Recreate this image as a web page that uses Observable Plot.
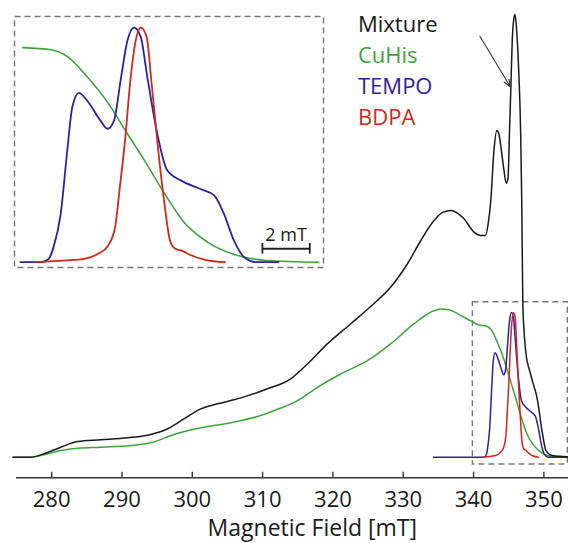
<!DOCTYPE html>
<html><head><meta charset="utf-8">
<script src="https://cdn.jsdelivr.net/npm/d3@7"></script>
<script src="https://cdn.jsdelivr.net/npm/@observablehq/plot@0.6"></script>
<style>
html,body{margin:0;padding:0;background:#fff;}
#wrap{position:relative;width:568px;height:543px;font-family:"Open Sans",sans-serif;overflow:hidden;}
#main,#inset,#legend{position:absolute;}
#main{left:0;top:0;}
#inset{left:13px;top:15px;}
#legend{left:358px;top:8px;font-size:22px;line-height:31px;}
</style></head><body>
<div id="wrap"><div id="main"></div><div id="inset"></div><div id="legend"></div></div>
<script>
// Magnetic field [mT], intensity (arbitrary units, Mixture peak = 100)
const mixture = [
  [274.5,0],[277,0],[278.9,0.77],[281.3,2.26],[283.7,3.55],[287.0,3.93],[290.8,4.38],
  [294.1,5.13],[296.5,6.42],[298.8,8.67],[301.2,10.93],[303.6,12.06],[305.9,12.97],
  [306.9,13.4],[310.7,15.45],[314.0,17.7],[316.4,21.1],[319.2,25.6],[322.5,30.1],
  [325.8,34.65],[328.2,38.4],[330.6,43.7],[332.5,48.95],[334.4,53.5],[335.6,55.3],
  [336.8,55.7],[337.8,55.0],[338.6,53.9],[340.1,50.8],[341.0,50.1],[341.7,50.1],
  [342.1,53],[342.45,58],[342.9,69.3],[343.3,73.8],[343.6,73],[343.9,70],[344.3,65],
  [344.65,61.9],[344.9,63],[345.1,73],[345.3,83.4],[345.5,94.1],[345.75,99.3],[345.9,100],
  [346.1,97],[346.4,88.1],[346.7,73],[346.85,58],[347.0,35.3],[347.2,28],[347.4,24.1],
  [348.1,18.8],[349.1,12.8],[349.8,5.3],[350.3,1.5],[351.2,0.4],[353.5,0.1]
];
const cuhis = [
  [274.5,0],[277,0],[278.9,0.54],[281.3,1.51],[283.7,2.03],[287.0,2.26],[291.3,2.64],
  [294.4,3.39],[297.3,5.06],[301.2,6.64],[305.9,7.91],[309.7,9.42],[311.6,10.5],
  [314.95,12.8],[317.8,15.8],[321.1,18.8],[324.9,21.8],[328.2,25.6],[331.5,30.1],
  [333.9,32.75],[335.3,33.5],[336.5,33.3],[338.2,32.0],[339.6,30.8],[340.7,29.9],
  [341.9,29.6],[342.6,28.6],[343.4,25.9],[344.3,22.2],[345.1,18.0],[345.8,14.4],
  [346.7,9.5],[347.5,5.6],[348.5,2.8],[349.6,1.1],[351.0,0.24],[353.2,0]
];
const tempo = [
  [334.3,0],[340.6,0],[341.5,0],[341.8,0.5],[342.0,2.1],[342.3,6.7],[342.58,15.6],
  [342.79,21.6],[343.07,23.6],[343.42,22.5],[343.99,19.7],[344.27,18.6],[344.55,19.7],
  [344.83,25.3],[345.12,30.9],[345.4,32.7],[345.68,31.4],[345.96,25.8],[346.38,17.9],
  [346.8,12.8],[347.37,11.4],[348.2,10.2],[348.78,9.3],[349.2,6.7],[349.62,3.0],
  [350.05,0.7],[350.6,0],[351.5,0],[353.5,0]
];
const bdpa = [
  [341.2,0],[342.5,0.24],[343.3,0.47],[343.9,1.2],[344.3,2.3],[344.6,4.9],[344.8,10.5],
  [345.02,17.0],[345.23,24.9],[345.44,30.4],[345.69,32.7],[345.93,31.4],[346.14,24.9],
  [346.42,15.6],[346.7,7.7],[346.92,3.0],[347.13,1.9],[347.41,1.6],[347.83,0.93],
  [348.4,0.33],[349.24,0]
];
const xTicks = [280, 290, 300, 310, 320, 330, 340, 350];
const xLabel = "Magnetic Field [mT]";
const xLabelAt = 317.07;
const legendNames = ["Mixture", "CuHis", "TEMPO", "BDPA"];
const legendColors = ["#1a1a1a", "#3ea33e", "#2e21a0", "#d0281c"];
const zoomBox = [{x1: 339.9, x2: 353.4, y1: -1.65, y2: 35.0}];
const arrowAnno = [{x1: 340.9, y1: 95.1, x2: 345.25, y2: 83.6}];
const insetRange = [340.35, 353.4];
const scaleBar = [350.82, 352.82];
const scaleBarLabel = "2 mT";

const [cMix, cCu, cTempo, cBdpa] = legendColors;
const X = d => d[0], Y = d => d[1];
const yMin = -4.65;

const main = Plot.plot({
  width: 568, height: 543,
  marginLeft: 16, marginRight: 0, marginTop: 14, marginBottom: 65.7,
  x: {domain: [275, 353.5]},
  y: {domain: [yMin, 100], axis: null},
  style: {fontFamily: "'Open Sans', sans-serif", background: "transparent", color: "#1a1a1a"},
  marks: [
    Plot.ruleY([yMin], {stroke: "#333", strokeWidth: 1.4}),
    Plot.axisX({ticks: xTicks, tickSize: 5.6, dy: -5.6, tickFormat: () => "", label: null, stroke: "#333", strokeWidth: 1.4}),
    Plot.axisX({ticks: xTicks, tickSize: 0, tickPadding: 13.8, fontSize: 22, label: null, fill: "#1a1a1a"}),
    Plot.text([xLabel], {x: () => xLabelAt, frameAnchor: "bottom", dy: 57.7, lineAnchor: "bottom", fontSize: 23, fill: "#1a1a1a", text: d => d}),
    Plot.rect(zoomBox, {x1: "x1", x2: "x2", y1: "y1", y2: "y2", fill: "none", stroke: "#777", strokeWidth: 1.4, strokeDasharray: "6,4"}),
    Plot.line(cuhis, {x: X, y: Y, stroke: cCu, strokeWidth: 1.5, curve: "monotone-x"}),
    Plot.line(tempo, {x: X, y: Y, stroke: cTempo, strokeWidth: 1.5, curve: "monotone-x"}),
    Plot.line(bdpa, {x: X, y: Y, stroke: cBdpa, strokeWidth: 1.5, curve: "monotone-x"}),
    Plot.line(mixture, {x: X, y: Y, stroke: cMix, strokeWidth: 1.5, curve: "monotone-x"}),
    Plot.arrow(arrowAnno, {x1: "x1", y1: "y1", x2: "x2", y2: "y2", stroke: "#333", strokeWidth: 1.1, headLength: 11, headAngle: 40})
  ]
});
document.getElementById("main").appendChild(main);

const inInset = d => d[0] >= 340.6 && d[0] <= 353.3;
const inset = Plot.plot({
  width: 311, height: 253, margin: 1,
  x: {domain: insetRange, axis: null},
  y: {domain: [-0.74, 34.24], axis: null},
  style: {fontFamily: "'Open Sans', sans-serif", background: "transparent", overflow: "visible"},
  marks: [
    Plot.frame({stroke: "#777", strokeWidth: 1.4, strokeDasharray: "6,4"}),
    Plot.line(cuhis.filter(inInset), {x: X, y: Y, stroke: cCu, strokeWidth: 1.6, curve: "monotone-x"}),
    Plot.line(tempo.filter(d => inInset(d) && d[0] <= 351.5), {x: X, y: Y, stroke: cTempo, strokeWidth: 1.8, curve: "monotone-x"}),
    Plot.line(bdpa.filter(inInset), {x: X, y: Y, stroke: cBdpa, strokeWidth: 1.8, curve: "monotone-x"}),
    Plot.ruleY([1.87], {x1: scaleBar[0], x2: scaleBar[1], stroke: "#222", strokeWidth: 1.8}),
    Plot.ruleX(scaleBar, {y1: 1.87 - 0.75, y2: 1.87 + 0.75, stroke: "#222", strokeWidth: 1.8}),
    Plot.text([scaleBarLabel], {x: () => (scaleBar[0] + scaleBar[1]) / 2, y: () => 3.0, text: d => d, lineAnchor: "bottom", fontSize: 18, fill: "#1a1a1a"})
  ]
});
document.getElementById("inset").appendChild(inset);

const legend = document.getElementById("legend");
legendNames.forEach((name, i) => {
  const div = document.createElement("div");
  div.textContent = name;
  div.style.color = legendColors[i];
  legend.appendChild(div);
});
</script>
</body></html>
